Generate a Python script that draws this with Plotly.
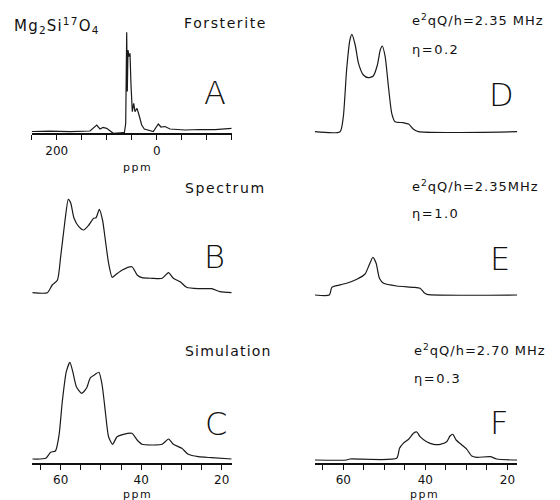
import plotly.graph_objects as go

W, H = 560, 500

# ---------------- data (ppm, intensity in arbitrary units) ----------------
# Panel A: Mg2Si17O4 forsterite, full spectrum
a_ppm = [250, 213.4, 173.4, 133.4, 120, 113.4, 107.4, 100, 86.8, 66.8, 64.8, 62, 60, 58.8, 57.4,
         55.4, 53.4, 51.4, 48.8, 46, 43.4, 39.4, 35.4, 30, 24.8, 6.8, -3.2, -8.6, -16.6, -26.6,
         -56.6, -86.6, -116.6, -150]
a_int = [0, 0.3, -0.2, 0.5, 6.5, 2.5, 4, 3.2, -1.8, -1.2, -1.8, 8, 99.2, 40, 81.5,
         74.8, 78.2, 46.5, 19.8, 28.2, 19.8, 23.2, 16.5, 6.5, 2.5, 0, 7.5, 4.5, 5, 2.5,
         1.5, 2, 1.8, 3.2]

# Panel B: experimental spectrum (expanded)
b_ppm = [67.0, 63.3, 62.1, 60.8, 60.0, 59.0, 58.1, 57.5, 56.7, 55.5, 54.3, 53.0, 51.8, 51.2, 50.4,
         49.6, 48.9, 48.1, 47.2, 46.4, 44.7, 42.3, 41.0, 39.8, 37.3, 34.8, 33.2, 32.0, 30.3, 28.7,
         25.8, 22.5, 20.4, 17.5]
b_int = [0, 0, 7.7, 12.7, 36, 69.7, 93.4, 89.7, 74.7, 66, 62.7, 67.7, 74.4, 75, 83.4,
         72.7, 52.7, 29.7, 15.4, 17.7, 22.7, 26, 17.7, 15, 14.4, 14.4, 20, 14.4, 11, 5.4,
         4, 4, 1, 0]

# Panel C: simulation (sum)
c_ppm = [67.0, 63.7, 62.5, 61.3, 60.4, 59.6, 58.6, 57.7, 57.0, 56.1, 54.8, 53.6, 52.6, 51.4, 50.5,
         49.7, 48.9, 48.1, 47.1, 46.0, 44.4, 42.3, 41.0, 39.8, 36.9, 34.8, 33.2, 32.0, 29.9, 28.3,
         25.8, 22.5, 17.5]
c_int = [0, 0.7, 6.7, 8, 24, 57.3, 87.3, 96.7, 87.3, 72.3, 65.7, 70.7, 81.3, 84.7, 86.7,
         74, 47.3, 22.3, 14.7, 22.3, 24.7, 25.7, 19, 14.7, 14, 14.7, 20, 14.7, 10.7, 4.7,
         2.3, 1.3, 0]

# Panel D: e2qQ/h = 2.35 MHz, eta = 0.2
d_ppm = [66.9, 60.8, 60.0, 59.2, 58.4, 57.9, 57.1, 56.3, 55.1, 53.9, 52.7, 51.7, 51.0, 50.5, 49.8,
         49.0, 48.2, 47.4, 45.4, 44.1, 42.9, 41.7, 17.6]
d_int = [0, 0, 15, 61.7, 91.7, 97.4, 86.7, 68.4, 56.7, 54, 55.7, 66.7, 81.7, 85.7, 75,
         45, 18.4, 10, 9, 7.7, 2.4, 0, 0]

# Panel E: e2qQ/h = 2.35 MHz, eta = 1.0
e_ppm = [66.9, 63.4, 62.8, 62.0, 59.2, 56.7, 54.7, 53.7, 52.8, 52.0, 51.2, 50.2, 47.0, 42.9, 41.3,
         40.3, 39.6, 17.6]
e_int = [0, 0, 7.7, 9, 11.7, 15.7, 21, 30, 37.7, 31.7, 16.7, 11.7, 9, 7.7, 6.7,
         2.3, 0.7, 0]

# Panel F: e2qQ/h = 2.70 MHz, eta = 0.3
f_ppm = [66.9, 59.2, 58.4, 47.0, 46.3, 45.4, 44.1, 42.9, 42.1, 41.3, 39.7, 38.0, 36.4, 34.8, 34.0,
         33.3, 32.5, 31.1, 29.9, 28.7, 27.5, 24.2, 22.6, 17.6]
f_int = [-1, -1, 0, 0.7, 10.7, 15.7, 19.7, 25.7, 27, 22.3, 17.3, 14.7, 14.7, 17.3, 23,
         24.7, 19, 14, 9.7, 3, 1.7, 2.3, 0, -1]

# tick values / labels (labelled major ticks + unlabelled minor ticks)
wide_tickvals = [200, 0]
wide_ticktext = ["200", "0"]
wide_minorvals = [250, 150, 100, 50, -50, -100, -150]
narrow_tickvals = [60, 40, 20]
narrow_ticktext = ["60", "40", "20"]
narrow_minorvals = [65, 55, 50, 45, 35, 30, 25]

# ---------------- layout helpers ----------------
FONT = "DejaVu Sans"


def fx(p):
    return p / W


def fy(p):
    return 1 - p / H


LEFT = (31.7, 231.7)
RIGHT = (315.0, 517.3)

panels = [
    dict(x=a_ppm, y=a_int, col=LEFT, ybot=133.3, base=131.5, rng=[250, -150], axis=True,
         tv=wide_tickvals, tt=wide_ticktext, mv=wide_minorvals, shape="linear"),
    dict(x=b_ppm, y=b_int, col=LEFT, ybot=296.0, base=292.7, rng=[67.2, 17.5], axis=False,
         tv=None, tt=None, mv=None, shape="spline"),
    dict(x=c_ppm, y=c_int, col=LEFT, ybot=462.7, base=459.0, rng=[67.2, 17.5], axis=True,
         tv=narrow_tickvals, tt=narrow_ticktext, mv=narrow_minorvals, shape="spline"),
    dict(x=d_ppm, y=d_int, col=RIGHT, ybot=135.0, base=131.7, rng=[66.9, 17.6], axis=False,
         tv=None, tt=None, mv=None, shape="spline"),
    dict(x=e_ppm, y=e_int, col=RIGHT, ybot=298.0, base=295.0, rng=[66.9, 17.6], axis=False,
         tv=None, tt=None, mv=None, shape="spline"),
    dict(x=f_ppm, y=f_int, col=RIGHT, ybot=463.0, base=459.0, rng=[66.9, 17.6], axis=True,
         tv=narrow_tickvals, tt=narrow_ticktext, mv=narrow_minorvals, shape="spline"),
]

fig = go.Figure()
layout = {}
PH = 110.0
for i, p in enumerate(panels, start=1):
    sfx = "" if i == 1 else str(i)
    fig.add_trace(go.Scatter(
        x=p["x"], y=p["y"], mode="lines",
        line=dict(color="#1a1a1a", width=1.2, shape=p["shape"], smoothing=0.6, simplify=False),
        xaxis="x" + sfx, yaxis="y" + sfx, showlegend=False, hoverinfo="skip"))
    off = p["ybot"] - p["base"]
    xa = dict(domain=[fx(p["col"][0]), fx(p["col"][1])], range=p["rng"],
              anchor="y" + sfx, showgrid=False, zeroline=False, fixedrange=True,
              automargin=False)
    if p["axis"]:
        xa.update(showline=True, linecolor="#111", linewidth=1.6,
                  ticks="outside", ticklen=5, tickwidth=1.3, tickcolor="#111",
                  tickvals=p["tv"], ticktext=p["tt"],
                  minor=dict(tickvals=p["mv"], ticks="outside", ticklen=5, tickwidth=1.3,
                             tickcolor="#111", showgrid=False),
                  tickfont=dict(family=FONT, size=12, color="#111"))
    else:
        xa.update(visible=False)
    ya = dict(domain=[fy(p["ybot"]), fy(p["ybot"] - PH)], range=[-off, PH - off],
              anchor="x" + sfx, visible=False, fixedrange=True, automargin=False)
    layout["xaxis" + sfx] = xa
    layout["yaxis" + sfx] = ya


def ann(text, x, y, size, xanchor="center", spacing=0.0, weight=None):
    if spacing:
        text = '<span style="letter-spacing:%.1fpx">%s</span>' % (spacing, text)
    font = dict(family=FONT, size=size, color="#111")
    if weight:
        font["weight"] = weight
    return dict(text=text, x=fx(x), y=fy(y), xref="paper", yref="paper",
                xanchor=xanchor, yanchor="middle", showarrow=False, font=font)


BIG = 32
annotations = [
    ann("Mg<sub>2</sub>Si<sup>17</sup>O<sub>4</sub>", 12, 25, 15, "left", 1.2),
    ann("Forsterite", 182, 23, 14, "left", 1.6),
    ann("A", 215, 93, BIG, weight=200),
    ann("ppm", 137, 167, 11, "center", 1.5),
    ann("Spectrum", 183, 188, 14, "left", 1.6),
    ann("B", 214, 257, BIG, weight=200),
    ann("Simulation", 183, 351, 14, "left", 1.2),
    ann("C", 216, 424, BIG, weight=200),
    ann("ppm", 137, 494, 11, "center", 1.5),
    ann("e<sup>2</sup>qQ/h=2.35 MHz", 410, 20, 13, "left", 1.0),
    ann("η=0.2", 410, 50, 13, "left", 1.5),
    ann("D", 501, 95, BIG, weight=200),
    ann("e<sup>2</sup>qQ/h=2.35MHz", 410, 186, 13, "left", 1.0),
    ann("η=1.0", 410, 214, 13, "left", 1.5),
    ann("E", 500, 259, BIG, weight=200),
    ann("e<sup>2</sup>qQ/h=2.70 MHz", 412, 350, 13, "left", 1.0),
    ann("η=0.3", 412, 378, 13, "left", 1.5),
    ann("F", 499, 423, BIG, weight=200),
    ann("ppm", 424, 494, 11, "center", 1.5),
]

fig.update_layout(
    width=W, height=H, margin=dict(l=0, r=0, t=0, b=0, autoexpand=False),
    paper_bgcolor="white", plot_bgcolor="white",
    font=dict(family=FONT, color="#111"),
    annotations=annotations, **layout)

fig.write_html("out.html", config={"displayModeBar": False},
               post_script="document.body.style.margin='0';document.body.style.overflow='hidden';")
